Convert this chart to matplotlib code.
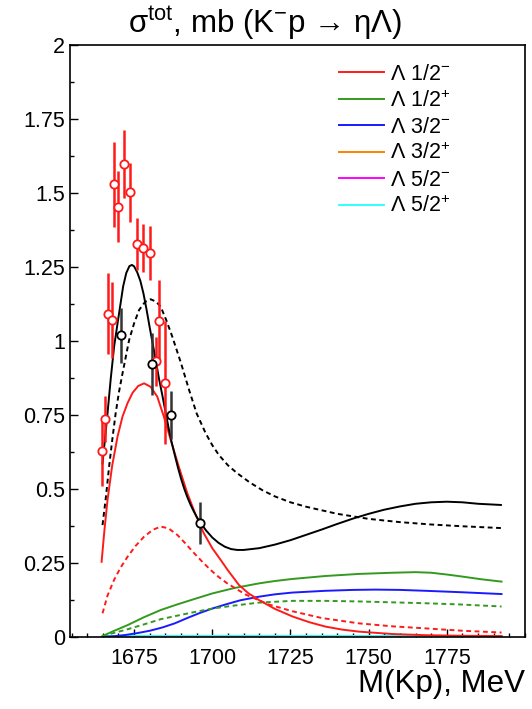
import numpy as np
import matplotlib
matplotlib.use("Agg")
import matplotlib.pyplot as plt
from matplotlib.ticker import MultipleLocator, FixedLocator, FixedFormatter
from matplotlib.lines import Line2D

plt.rcParams['font.family'] = ['Liberation Sans', 'DejaVu Sans']
plt.rcParams['mathtext.fontset'] = 'custom'
plt.rcParams['mathtext.rm'] = 'Liberation Sans'
plt.rcParams['mathtext.it'] = 'Liberation Sans:italic'

# data points (red: one data set, black: another)
red_x = [1664.6, 1665.8, 1666.7, 1667.8, 1668.7, 1669.8, 1671.7, 1673.7,
         1675.9, 1677.9, 1680.0, 1681.9, 1683.0, 1684.9]
red_y = [0.627, 0.736, 1.092, 1.072, 1.529, 1.453, 1.599, 1.503,
         1.328, 1.314, 1.298, 0.932, 1.068, 0.859]
red_err = [0.116, 0.078, 0.137, 0.128, 0.143, 0.120, 0.115, 0.100,
           0.087, 0.080, 0.091, 0.083, 0.139, 0.208]

black_x = [1670.8, 1680.6, 1686.9, 1696.2]
black_y = [1.019, 0.922, 0.750, 0.384]
black_err = [0.093, 0.105, 0.081, 0.071]

# total cross section, solid
tot_x = [1664.9, 1665.5, 1666.5, 1667.5, 1668.6, 1669.5, 1670.5, 1671.5, 1672.5,
         1673.5, 1674.3, 1675.0, 1676.0, 1677.0, 1678.0, 1679.0, 1680.0, 1681.0,
         1682.0, 1683.0, 1684.0, 1685.0, 1686.0, 1687.0, 1688.0, 1689.0, 1690.0,
         1691.0, 1692.0, 1693.0, 1694.0, 1695.0, 1696.0, 1698.0, 1700.0, 1702.0,
         1704.0, 1706.0, 1708.0, 1710.0, 1715.0, 1720.0, 1725.0, 1730.0, 1735.0,
         1740.0, 1745.0, 1750.0, 1755.0, 1760.0, 1765.0, 1770.0, 1775.0, 1780.0,
         1785.0, 1792.3]
tot_y = [0.586, 0.650, 0.756, 0.870, 0.981, 1.045, 1.115, 1.185, 1.230,
         1.253, 1.257, 1.252, 1.232, 1.203, 1.160, 1.105, 1.045, 0.988,
         0.930, 0.870, 0.818, 0.763, 0.708, 0.658, 0.615, 0.573, 0.535,
         0.502, 0.473, 0.448, 0.426, 0.406, 0.389, 0.360, 0.336, 0.318,
         0.305, 0.297, 0.294, 0.294, 0.300, 0.312, 0.327, 0.345, 0.363,
         0.382, 0.400, 0.416, 0.430, 0.441, 0.450, 0.455, 0.457, 0.455,
         0.450, 0.446]

# total cross section, dotted
tot2_x = [1664.9, 1666.0, 1667.0, 1668.0, 1669.1, 1670.2, 1671.3, 1672.4, 1673.4,
          1675.0, 1676.6, 1678.5, 1680.3, 1682.0, 1683.5, 1685.3, 1687.2, 1690.0,
          1692.6, 1695.0, 1697.9, 1700.0, 1702.1, 1705.0, 1708.0, 1712.0, 1716.0,
          1720.0, 1725.0, 1730.0, 1740.0, 1750.0, 1760.0, 1770.0, 1780.0, 1792.3]
tot2_y = [0.378, 0.475, 0.575, 0.665, 0.756, 0.830, 0.891, 0.950, 1.003,
          1.060, 1.105, 1.132, 1.141, 1.133, 1.116, 1.070, 1.015, 0.925,
          0.834, 0.755, 0.688, 0.648, 0.615, 0.580, 0.553, 0.522, 0.496,
          0.475, 0.455, 0.440, 0.416, 0.399, 0.388, 0.380, 0.374, 0.368]

# Lambda 1/2- solid / dashed
l12m_x = [1664.6, 1665.5, 1666.5, 1668.0, 1669.7, 1671.3, 1672.9, 1674.5, 1676.3,
          1678.2, 1680.3, 1682.4, 1684.5, 1686.7, 1689.3, 1692.0, 1694.6, 1697.3,
          1700.0, 1702.7, 1705.0, 1708.5, 1711.5, 1714.9, 1720.0, 1725.7, 1731.0,
          1736.2, 1741.5, 1746.9, 1757.5, 1768.2, 1780.0, 1792.5]
l12m_y = [0.254, 0.360, 0.463, 0.580, 0.677, 0.745, 0.790, 0.825, 0.848,
          0.857, 0.845, 0.812, 0.745, 0.666, 0.575, 0.486, 0.415, 0.350,
          0.300, 0.260, 0.225, 0.176, 0.148, 0.125, 0.095, 0.069, 0.050,
          0.035, 0.025, 0.018, 0.010, 0.006, 0.004, 0.003]
l12m_dx = [1664.9, 1666.5, 1668.6, 1670.7, 1672.9, 1675.5, 1678.2, 1681.0, 1683.5,
           1686.0, 1688.8, 1691.5, 1694.2, 1697.0, 1699.5, 1702.0, 1704.8, 1710.7,
           1718.0, 1725.6, 1735.0, 1746.9, 1757.5, 1768.2, 1780.0, 1792.5]
l12m_dy = [0.080, 0.140, 0.193, 0.235, 0.271, 0.308, 0.339, 0.362, 0.373,
           0.367, 0.345, 0.315, 0.283, 0.252, 0.226, 0.203, 0.181, 0.143,
           0.110, 0.087, 0.064, 0.046, 0.036, 0.029, 0.021, 0.015]

# Lambda 1/2+ solid / dashed
l12p_x = [1664.9, 1668.0, 1672.9, 1678.0, 1683.5, 1688.8, 1694.2, 1700.0, 1706.9,
          1714.9, 1720.0, 1725.6, 1736.2, 1746.9, 1757.5, 1765.0, 1770.0, 1775.0,
          1780.0, 1786.0, 1792.5]
l12p_y = [0.003, 0.018, 0.040, 0.066, 0.091, 0.110, 0.128, 0.147, 0.165,
          0.181, 0.189, 0.196, 0.206, 0.213, 0.217, 0.219, 0.217, 0.211,
          0.204, 0.195, 0.187]
l12p_dx = [1664.9, 1668.0, 1672.9, 1678.0, 1683.5, 1688.8, 1694.2, 1700.0, 1706.9,
           1714.9, 1725.6, 1736.2, 1746.9, 1757.5, 1768.0, 1778.8, 1792.5]
l12p_dy = [0.003, 0.012, 0.026, 0.042, 0.060, 0.072, 0.084, 0.096, 0.106,
           0.116, 0.122, 0.122, 0.120, 0.117, 0.114, 0.110, 0.103]

# Lambda 3/2- solid
l32m_x = [1664.9, 1668.0, 1672.4, 1676.0, 1680.0, 1684.0, 1688.0, 1692.0, 1696.0,
          1700.0, 1704.3, 1709.0, 1714.9, 1720.0, 1725.6, 1736.2, 1745.0, 1752.2,
          1760.0, 1768.2, 1780.0, 1792.5]
l32m_y = [0.001, 0.002, 0.007, 0.013, 0.021, 0.032, 0.046, 0.064, 0.081,
          0.096, 0.110, 0.124, 0.136, 0.144, 0.150, 0.156, 0.159, 0.160,
          0.159, 0.156, 0.151, 0.145]

# waves with negligible contribution
flat_x = [1664.9, 1792.5]
flat_y = [0.002, 0.002]

c_red = '#ff1a1a'
c_green = '#339a1f'
c_blue = '#1a1aff'
c_orange = '#ff8000'
c_magenta = '#ff00ff'
c_cyan = '#33ffff'

fig = plt.figure(figsize=(5.32, 7.09), dpi=100)
ax = fig.add_axes([0.1316, 0.1016, 0.8552, 0.8349])

lw = 1.4
dash = (0, (2.5, 1.8))
ax.plot(flat_x, flat_y, color=c_orange, lw=lw)
ax.plot(flat_x, flat_y, color=c_magenta, lw=lw)
ax.plot(flat_x, flat_y, color=c_cyan, lw=lw)
ax.plot(l32m_x, l32m_y, color=c_blue, lw=lw)
ax.plot(l12p_dx, l12p_dy, color=c_green, lw=lw, ls=dash)
ax.plot(l12p_x, l12p_y, color=c_green, lw=lw)
ax.plot(l12m_dx, l12m_dy, color=c_red, lw=lw, ls=dash)
ax.plot(l12m_x, l12m_y, color=c_red, lw=lw)
ax.plot(tot2_x, tot2_y, color='black', lw=lw, ls=dash)
ax.plot(tot_x, tot_y, color='black', lw=lw)

ax.errorbar(red_x, red_y, yerr=red_err, fmt='o', color=c_red, ecolor=c_red,
            mfc='white', mec=c_red, ms=6, mew=1.3, elinewidth=1.8, capsize=0, zorder=5)
ax.errorbar(black_x, black_y, yerr=black_err, fmt='o', color='black', ecolor='#333333',
            mfc='white', mec='black', ms=6, mew=1.3, elinewidth=1.8, capsize=0, zorder=5)

ax.set_xlim(1654.5, 1800)
ax.set_ylim(0, 2)

ax.xaxis.set_major_locator(FixedLocator([1675, 1700, 1725, 1750, 1775]))
ax.xaxis.set_minor_locator(MultipleLocator(5))
yt = [0, 0.25, 0.5, 0.75, 1, 1.25, 1.5, 1.75, 2]
ax.yaxis.set_major_locator(FixedLocator(yt))
ax.yaxis.set_major_formatter(FixedFormatter(['0', '0.25', '0.5', '0.75', '1', '1.25', '1.5', '1.75', '2']))
ax.yaxis.set_minor_locator(MultipleLocator(0.125))
ax.tick_params(which='both', direction='in', top=False, right=False, labelsize=15.5, width=1)
ax.tick_params(which='major', length=6)
ax.tick_params(which='minor', length=3)
ax.tick_params(axis='x', pad=8)
for s in ax.spines.values():
    s.set_linewidth(1.2)

fig.text(265 / 532, 1 - 33 / 709, r"σ$^{\mathrm{tot}}$, mb (K$^{-}$p → ηΛ)",
         fontsize=22.5, ha='center', va='baseline')
ax.set_xlabel("M(Kp), MeV", fontsize=22.5, loc='right', labelpad=0)

labels = [r"Λ 1/2$^{-}$", r"Λ 1/2$^{+}$", r"Λ 3/2$^{-}$", r"Λ 3/2$^{+}$",
          r"Λ 5/2$^{-}$", r"Λ 5/2$^{+}$"]
colors = [c_red, c_green, c_blue, c_orange, c_magenta, c_cyan]
handles = [Line2D([], [], color=c, lw=1.4) for c in colors]
ax.legend(handles, labels, loc='upper left', bbox_to_anchor=(0.591, 0.968),
          frameon=False, fontsize=15.5, handlelength=2.1, handletextpad=0.28,
          labelspacing=0.24, borderpad=0, borderaxespad=0)

fig.savefig("out.png", dpi=100)
